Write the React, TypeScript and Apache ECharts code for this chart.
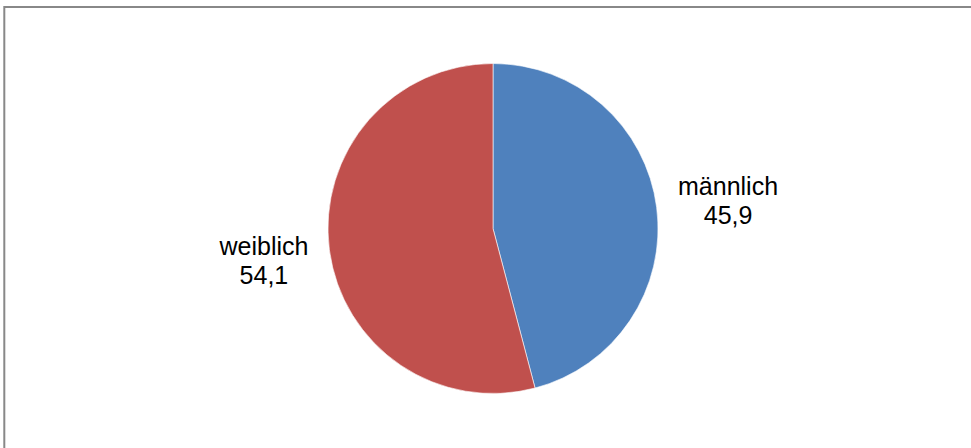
import React, { useEffect, useRef } from "react";
import * as echarts from "echarts";

const categories = ["männlich", "weiblich"];
const values = [45.9, 54.1];
const colors = ["#4F81BD", "#C0504D"];

const CENTER_X = 493;
const CENTER_Y = 228.5;
const RADIUS = 165;
const LABEL_DIST = 234;
const LABEL_SHIFT_X = 3;
const LABEL_SHIFT_Y = 2;

export default function App() {
  const ref = useRef<HTMLDivElement>(null);

  useEffect(() => {
    if (!ref.current) return;
    const chart = echarts.init(ref.current, null, { renderer: "svg" });
    const total = values.reduce((a, b) => a + b, 0);
    const midAngles: number[] = [];
    let acc = 0;
    values.forEach((v) => {
      const mid = ((acc + v / 2) / total) * Math.PI * 2;
      midAngles.push(mid);
      acc += v;
    });

    chart.setOption({
      animation: false,
      backgroundColor: "#ffffff",
      graphic: [
        {
          type: "rect",
          shape: { x: 4.3, y: 7, width: 1000, height: 500 },
          style: { fill: "none", stroke: "#888888", lineWidth: 2 },
          silent: true,
        },
      ],
      series: [
        {
          type: "pie",
          center: [CENTER_X, CENTER_Y],
          radius: [0, RADIUS],
          startAngle: 90,
          clockwise: true,
          data: categories.map((c, i) => ({
            name: c,
            value: values[i],
            itemStyle: { color: colors[i] },
          })),
          itemStyle: { borderColor: "#ffffff", borderWidth: 0.6 },
          label: {
            show: true,
            position: "outside",
            formatter: (p: any) =>
              p.name + "\n" + Number(p.value).toFixed(1).replace(".", ","),
            fontFamily: "Liberation Sans, Arial, sans-serif",
            fontSize: 25,
            lineHeight: 29,
            color: "#000000",
            align: "center",
          },
          labelLine: { show: false },
          labelLayout: (params: any) => {
            const a = midAngles[params.dataIndex];
            return {
              x: CENTER_X + LABEL_DIST * Math.sin(a) + LABEL_SHIFT_X,
              y: CENTER_Y - LABEL_DIST * Math.cos(a) + LABEL_SHIFT_Y,
              align: "center",
              verticalAlign: "middle",
            };
          },
          emphasis: { disabled: true },
        },
      ],
    });
    return () => chart.dispose();
  }, []);

  return (
    <div
      ref={ref}
      style={{ position: "fixed", left: 0, top: 0, width: 971, height: 448 }}
    />
  );
}
